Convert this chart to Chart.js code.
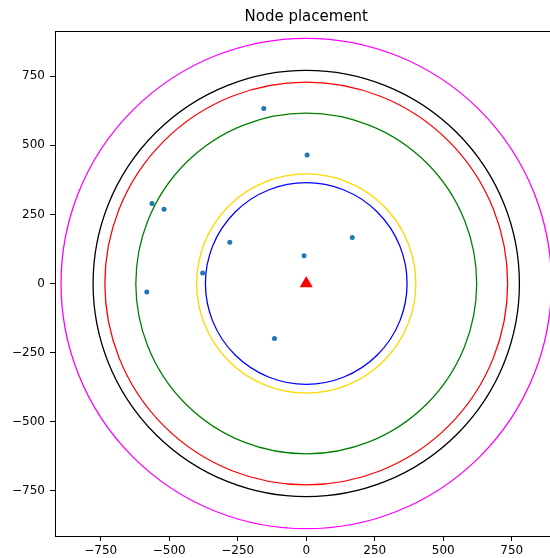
<!DOCTYPE html>
<html>
<head>
<meta charset="utf-8">
<script src="https://cdn.jsdelivr.net/npm/chart.js@4"></script>
<style>
    body { margin: 0; overflow: hidden; background: #fff; }
    #wrap { width: 565px; height: 558px; }
</style>
</head>
<body>
<div id="wrap"><canvas id="placement"></canvas></div>
<script>
// nodes (blue dots)
const nodeX = [-155, 3, -563, -519, -279, 168, -8, -378, -582, -116];
const nodeY = [633, 465, 289, 269, 149, 166, 100, 38, -31, -199];

// sink (red triangle)
const sinkX = [0];
const sinkY = [0];

// range rings around the sink
const ringRadii = [895, 778, 735, 622, 400, 368];
const ringColors = ["#ff00ff", "#000000", "#ff0000", "#008000", "#ffd700", "#0000ff"];

const tickValues = [-750, -500, -250, 0, 250, 500, 750];

const font = "DejaVu Sans";

function toPoints(xs, ys) {
    return xs.map((x, i) => ({ x: x, y: ys[i] }));
}

function ringDataset(r, color) {
    const radius = (ctx) => {
        const xs = ctx.chart.scales.x;
        return Math.abs(xs.getPixelForValue(r) - xs.getPixelForValue(0));
    };
    return {
        data: toPoints(sinkX, sinkY),
        pointStyle: "circle",
        backgroundColor: "transparent",
        borderColor: color,
        borderWidth: 1.3,
        pointRadius: radius,
        pointHoverRadius: radius,
    };
}

function makeAxis(afterFit) {
    return {
        type: "linear",
        afterBuildTicks: (scale) => {
            scale.ticks = tickValues.map((v) => ({ value: v }));
        },
        afterFit: afterFit,
        grid: {
            drawOnChartArea: false,
            drawTicks: true,
            tickLength: 5,
            color: "#000",
        },
        border: {
            display: true,
            color: "#000",
            width: 1,
        },
        ticks: {
            color: "#000",
            font: { family: font, size: 12 },
            callback: (v) => String(v).replace("-", "\u2212"),
        },
    };
}

const xAxis = makeAxis((scale) => { scale.height = 22; });
xAxis.min = -917;
xAxis.max = 917;
xAxis.ticks.padding = 3;

const yAxis = makeAxis((scale) => { scale.width = 55; });
yAxis.min = -913.5;
yAxis.max = 913.5;
yAxis.ticks.padding = 5;

const frame = {
    id: "frame",
    afterDraw(chart) {
        const { ctx, chartArea } = chart;
        ctx.save();
        ctx.strokeStyle = "#000";
        ctx.lineWidth = 1;
        ctx.beginPath();
        ctx.moveTo(chartArea.left, chartArea.top + 0.5);
        ctx.lineTo(chartArea.right, chartArea.top + 0.5);
        ctx.lineTo(chartArea.right - 0.5, chartArea.bottom);
        ctx.stroke();
        ctx.restore();
    },
};

new Chart(document.getElementById("placement"), {
    type: "scatter",
    data: {
        datasets: [
            {
                data: toPoints(sinkX, sinkY),
                pointStyle: "triangle",
                pointRadius: 7.5,
                pointHoverRadius: 7.5,
                backgroundColor: "#ff0000",
                borderColor: "#ff0000",
                borderWidth: 0,
            },
            {
                data: toPoints(nodeX, nodeY),
                pointRadius: 2.5,
                pointHoverRadius: 2.5,
                backgroundColor: "#1f77b4",
                borderColor: "#1f77b4",
                borderWidth: 0,
            },
            ...ringRadii.map((r, i) => ringDataset(r, ringColors[i])),
        ],
    },
    options: {
        responsive: true,
        maintainAspectRatio: false,
        animation: false,
        events: [],
        layout: {
            padding: { left: 0, right: 3, top: 0, bottom: 0 },
        },
        scales: {
            x: xAxis,
            y: yAxis,
        },
        plugins: {
            legend: { display: false },
            tooltip: { enabled: false },
            title: {
                display: true,
                text: "Node placement",
                fullSize: false,
                color: "#000",
                font: { family: font, size: 15, weight: "normal" },
                padding: { top: 8, bottom: 5 },
            },
        },
    },
    plugins: [frame],
});
</script>
</body>
</html>
